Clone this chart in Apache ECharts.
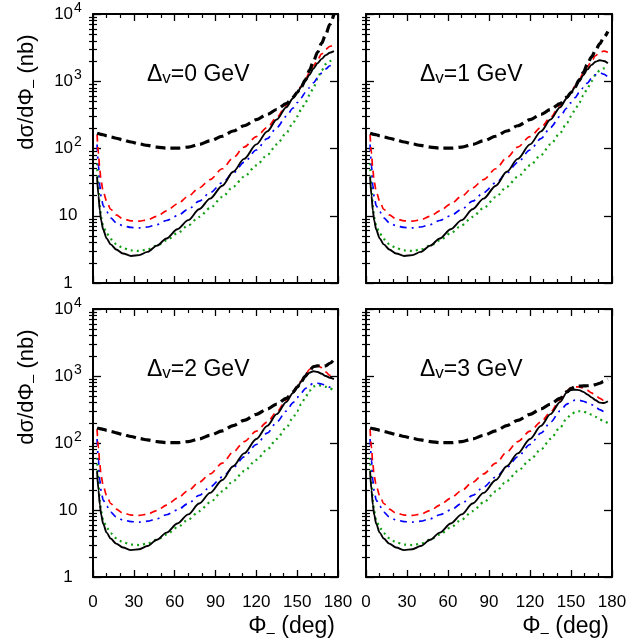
<!DOCTYPE html>
<html><head><meta charset="utf-8">
<script src="https://cdn.jsdelivr.net/npm/echarts@6/dist/echarts.min.js"></script>
<style>html,body{margin:0;padding:0;background:#fff}#c{width:631px;height:642px}</style>
</head><body><div id="c"></div>
<script>
// ---------- data ----------
const phiBase   = [3, 4, 5, 6, 7.5, 10, 13, 17, 22, 28, 34, 40, 47, 54, 62, 70, 78, 86, 95, 103, 111, 120, 128, 135, 142];
const dashBase  = [168, 166, 164, 162, 160, 155, 149, 142, 134, 125, 117, 111, 105, 101, 101, 105, 115, 130, 152, 182, 218, 268, 322, 380, 465];
const redBase   = [160, 85, 48, 32, 23, 16.5, 12.5, 10.3, 9.0, 8.4, 8.3, 8.7, 9.8, 11.8, 15, 19.5, 26, 34.5, 50, 73, 105, 150, 205, 290, 440];
const blueBase  = [115, 55, 28, 19, 14, 11.5, 9.3, 7.9, 7.1, 6.7, 6.6, 6.8, 7.4, 8.5, 10, 12.5, 16.5, 22, 31, 43, 62, 95, 140, 205, 300];
const greenBase = [60, 28, 14, 9.5, 7, 5.5, 4.5, 3.8, 3.3, 3.05, 3.0, 3.15, 3.6, 4.3, 5.5, 7.2, 9.6, 13, 19, 27, 38, 56, 80, 115, 170];
const solidBase = [38, 20, 12, 8.5, 6.2, 4.6, 3.75, 3.15, 2.75, 2.52, 2.6, 2.9, 3.6, 4.6, 6.3, 8.6, 12.5, 18, 28, 45, 70, 115, 180, 270, 410];

const phiTail = [147, 150, 153, 156, 159, 162, 165, 168, 171, 174, 177];
const deltaV  = ['0', '1', '2', '3'];
const dashTail = [
  [580, 680, 820, 1050, 1450, 2000, 2700, 3700, 5000, 7000, 10000],
  [580, 680, 820, 1050, 1350, 1800, 2300, 2900, 3600, 4500, 5500],
  [580, 680, 820, 1000, 1200, 1380, 1420, 1400, 1420, 1550, 1750],
  [580, 650, 690, 705, 710, 715, 725, 745, 780, 830, 890]
];
const redTail = [
  [580, 700, 850, 1050, 1350, 1700, 2100, 2550, 3000, 3300, 3500],
  [580, 700, 850, 1050, 1330, 1650, 2000, 2400, 2700, 2800, 2700],
  [580, 700, 850, 1030, 1250, 1420, 1430, 1330, 1150, 1020, 950],
  [600, 670, 690, 690, 660, 610, 560, 510, 465, 430, 410]
];
const solidTail = [
  [560, 680, 820, 1000, 1250, 1550, 1850, 2150, 2450, 2650, 2800],
  [560, 680, 820, 1000, 1230, 1500, 1750, 1950, 2050, 2000, 1850],
  [560, 680, 820, 970, 1120, 1180, 1150, 1080, 1000, 940, 900],
  [570, 615, 625, 615, 580, 530, 480, 435, 400, 395, 420]
];
const blueTail = [
  [400, 480, 570, 680, 800, 950, 1120, 1320, 1520, 1700, 1800],
  [400, 480, 570, 680, 800, 940, 1100, 1250, 1330, 1280, 1150],
  [400, 480, 560, 650, 730, 780, 780, 760, 720, 680, 650],
  [380, 415, 435, 435, 420, 400, 375, 345, 315, 295, 285]
];
const greenTail = [
  [240, 300, 380, 480, 620, 800, 1100, 1450, 1800, 2000, 2100],
  [240, 300, 380, 480, 610, 780, 1000, 1250, 1450, 1550, 1500],
  [240, 300, 380, 480, 600, 700, 730, 720, 690, 650, 610],
  [235, 265, 290, 298, 295, 283, 265, 245, 225, 210, 200]
];

const xMin = 0, xMax = 180, xInterval = 30;
const yTickValues = [1, 10, 100, 1000, 10000];
const yTickLabels = ['1', '10', '{n|10}{s|2}', '{n|10}{s|3}', '{n|10}{s|4}'];
const yMinorTicks = [2,3,4,5,6,7,8,9,20,30,40,50,60,70,80,90,200,300,400,500,600,700,800,900,2000,3000,4000,5000,6000,7000,8000,9000];

// ---------- layout ----------
const FONT = 'Liberation Sans';
const boxes = [
  {left: 93,  top: 14,  width: 245, height: 269},
  {left: 366, top: 14,  width: 246, height: 269},
  {left: 93,  top: 309, width: 245, height: 268},
  {left: 366, top: 309, width: 246, height: 268}
];

const grid = [], xAxis = [], yAxis = [], series = [], graphic = [];
const lineCol = '#000';

boxes.forEach((b, g) => {
  grid.push(Object.assign({containLabel: false}, b));
  const showX = g >= 2, showY = g % 2 === 0;
  ['bottom', 'top'].forEach(pos => {
    xAxis.push({
      gridIndex: g, type: 'value', min: xMin, max: xMax, interval: xInterval, position: pos,
      axisLine: {show: true, onZero: false, lineStyle: {color: lineCol, width: 2}},
      axisTick: {show: true, inside: true, length: 7, lineStyle: {color: lineCol, width: 1.3}},
      minorTick: {show: true, splitNumber: 3, length: 4, lineStyle: {color: lineCol, width: 1.2}},
      splitLine: {show: false}, minorSplitLine: {show: false},
      axisLabel: {show: pos === 'bottom' && showX, margin: 17, fontSize: 17, color: '#000', fontFamily: FONT}
    });
  });
  ['left', 'right'].forEach(pos => {
    yAxis.push({
      gridIndex: g, type: 'log', logBase: 10, min: 1, max: 10000, position: pos,
      axisLine: {show: true, onZero: false, lineStyle: {color: lineCol, width: 2}},
      axisTick: {show: true, inside: true, length: 8, lineStyle: {color: lineCol, width: 1.3}},
      splitLine: {show: false}, minorSplitLine: {show: false},
      axisLabel: {
        show: pos === 'left' && showY, margin: 25, align: 'center', fontSize: 17, color: '#000', fontFamily: FONT,
        formatter: v => yTickLabels[Math.round(Math.log10(v))],
        rich: {
          n: {fontSize: 17, fontFamily: FONT, color: '#000', verticalAlign: 'middle'},
          s: {fontSize: 14, fontFamily: FONT, color: '#000', verticalAlign: 'top', padding: [0, 0, 12, 1]}
        }
      }
    });
  });
  ['left', 'right'].forEach(pos => {
    yAxis.push({
      gridIndex: g, type: 'value', min: 0, max: 4, position: pos,
      axisLine: {show: false},
      axisTick: {show: true, inside: true, length: 4, customValues: yMinorTicks.map(v => Math.log10(v)),
                 lineStyle: {color: lineCol, width: 1.2}},
      axisLabel: {show: false}, splitLine: {show: false}
    });
  });

  const xi = g * 2, yi = g * 4;
  const mk = (base, tail) => phiBase.map((x, i) => [x, base[i]]).concat(phiTail.map((x, i) => [x, tail[g][i]]));
  const common = {type: 'line', xAxisIndex: xi, yAxisIndex: yi, showSymbol: false, symbol: 'none',
                  smooth: 0.3, smoothMonotone: 'x', clip: true, silent: true, animation: false};
  series.push(Object.assign({name: 'green' + g, data: mk(greenBase, greenTail),
    lineStyle: {color: '#13a013', width: 2.2, type: [2, 4]}}, common));
  series.push(Object.assign({name: 'blue' + g, data: mk(blueBase, blueTail),
    lineStyle: {color: '#0000ff', width: 1.7, type: [7, 5, 2, 5]}}, common));
  series.push(Object.assign({name: 'red' + g, data: mk(redBase, redTail),
    lineStyle: {color: '#ff0000', width: 1.7, type: [7, 5]}}, common));
  series.push(Object.assign({name: 'solid' + g, data: mk(solidBase, solidTail),
    lineStyle: {color: '#000', width: 1.9, type: 'solid'}}, common));
  series.push(Object.assign({name: 'dash' + g, data: mk(dashBase, dashTail),
    lineStyle: {color: '#000', width: 3.2, type: [10, 5]}}, common));

  // panel annotation
  graphic.push({
    type: 'text', x: b.left + 54, y: b.top + 61,
    style: {
      text: '{a|Δ}{v|v}{a|=' + deltaV[g] + ' GeV}',
      align: 'left', verticalAlign: 'middle',
      rich: {
        a: {fontSize: 23, fontFamily: FONT, fill: '#000', verticalAlign: 'middle'},
        v: {fontSize: 17, fontFamily: FONT, fill: '#000', verticalAlign: 'middle', padding: [7, 0, 0, 0]}
      }
    }
  });
  if (showY) {
    graphic.push({
      type: 'text', x: 27, y: b.top + 78, rotation: Math.PI / 2,
      style: {
        text: '{t|dσ/dΦ}{u|–}{t| (nb)}',
        align: 'center', verticalAlign: 'middle',
        rich: {
          t: {fontSize: 22, fontFamily: FONT, fill: '#000', verticalAlign: 'middle'},
          u: {fontSize: 15, fontFamily: FONT, fill: '#000', verticalAlign: 'middle', padding: [12, 0, 0, 0]}
        }
      }
    });
  }
  if (showX) {
    graphic.push({
      type: 'text', x: b.left + b.width - 3, y: 627,
      style: {
        text: '{t|Φ}{u|–}{t| (deg)}',
        align: 'right', verticalAlign: 'middle',
        rich: {
          t: {fontSize: 23, fontFamily: FONT, fill: '#000', verticalAlign: 'middle'},
          u: {fontSize: 15, fontFamily: FONT, fill: '#000', verticalAlign: 'middle', padding: [12, 0, 0, 0]}
        }
      }
    });
  }
});

const chart = echarts.init(document.getElementById('c'), null, {renderer: 'canvas'});
chart.setOption({
  animation: false,
  backgroundColor: '#fff',
  grid, xAxis, yAxis, series, graphic
});
</script>
</body></html>
